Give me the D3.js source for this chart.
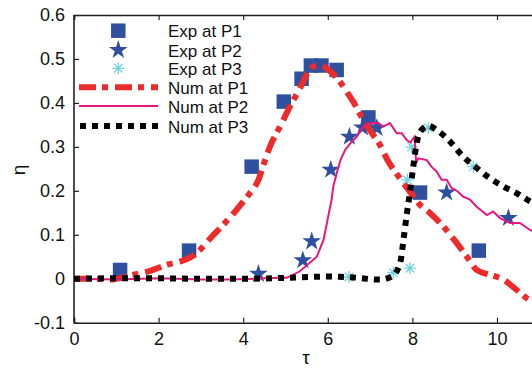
<!DOCTYPE html>
<html><head><meta charset="utf-8">
<script src="https://cdn.jsdelivr.net/npm/d3@7"></script>
<style>body{margin:0;background:#fff}svg{display:block}text{font-family:"Liberation Sans",Arial,sans-serif;fill:#111}</style>
</head><body>
<svg id="c" width="532" height="374"></svg>
<script>
const xTicks = [0, 2, 4, 6, 8, 10];
const yTicks = [-0.1, 0, 0.1, 0.2, 0.3, 0.4, 0.5, 0.6];
const yTickLabels = ["-0.1", "0", "0.1", "0.2", "0.3", "0.4", "0.5", "0.6"];
const legendLabels = ["Exp at P1", "Exp at P2", "Exp at P3", "Num at P1", "Num at P2", "Num at P3"];

const expP1 = [[1.09,0.02],[2.72,0.064],[4.2,0.255],[4.96,0.403],[5.38,0.455],[5.6,0.485],[5.85,0.485],[6.21,0.475],[6.96,0.367],[8.18,0.196],[9.57,0.064]];
const expP2 = [[4.36,0.011],[5.41,0.042],[5.62,0.085],[6.07,0.248],[6.51,0.323],[6.82,0.344],[7.16,0.343],[8.81,0.196],[10.27,0.138]];
const expP3 = [[6.5,0.004],[7.55,0.014],[7.94,0.024],[7.88,0.225],[7.98,0.30],[8.38,0.343],[9.44,0.255]];

const numP1 = [[0,0],[0.5,0],[0.85,-0.002],[1.4,0.009],[1.8,0.018],[2.2,0.032],[2.5,0.039],[2.74,0.048],[2.98,0.066],[3.25,0.095],[3.53,0.123],[3.8,0.152],[4.04,0.18],[4.2,0.2],[4.28,0.21],[4.36,0.225],[4.5,0.265],[4.63,0.3],[4.87,0.346],[5.15,0.4],[5.34,0.433],[5.54,0.471],[5.66,0.483],[5.82,0.486],[5.97,0.479],[6.1,0.468],[6.29,0.448],[6.45,0.425],[6.6,0.403],[6.84,0.361],[7.05,0.33],[7.23,0.305],[7.4,0.272],[7.67,0.233],[7.94,0.198],[8.18,0.168],[8.42,0.149],[8.73,0.119],[9.05,0.081],[9.28,0.051],[9.52,0.02],[9.83,0.009],[10.15,-0.002],[10.46,-0.025],[10.7,-0.044],[11,-0.06]];
const numP2 = [[0,0],[1,-0.002],[2,0.001],[3,-0.002],[3.7,-0.002],[4.5,0.001],[5.03,0.002],[5.34,0.017],[5.74,0.05],[5.9,0.089],[6.01,0.142],[6.09,0.18],[6.13,0.21],[6.21,0.24],[6.3,0.27],[6.41,0.293],[6.55,0.31],[6.68,0.323],[6.84,0.346],[7.0,0.354],[7.19,0.355],[7.31,0.346],[7.47,0.354],[7.63,0.331],[7.75,0.331],[7.86,0.316],[7.95,0.31],[8.05,0.323],[8.09,0.263],[8.14,0.274],[8.34,0.27],[8.45,0.255],[8.57,0.244],[8.69,0.225],[8.81,0.225],[8.93,0.206],[9.05,0.2],[9.2,0.187],[9.36,0.18],[9.52,0.164],[9.76,0.145],[9.91,0.153],[10.07,0.138],[10.31,0.127],[10.54,0.127],[10.78,0.111],[11,0.1]];
const numP3 = [[0,0],[1,0.001],[2,0.001],[3,0],[4,0],[5,0.002],[6.05,0.005],[6.6,0.003],[7.23,-0.002],[7.51,0.005],[7.71,0.036],[7.79,0.089],[7.86,0.142],[7.94,0.195],[8.02,0.255],[8.1,0.308],[8.22,0.339],[8.38,0.348],[8.57,0.339],[8.89,0.312],[9.2,0.278],[9.52,0.252],[9.83,0.229],[10.15,0.21],[10.46,0.195],[10.78,0.176],[11,0.165]];

const svg = d3.select("#c");
const x = d3.scaleLinear().domain([0, 12]).range([74, 581.6]);
const y = d3.scaleLinear().domain([-0.1, 0.6]).range([322.7, 15]);

const C = {sq:"#2f4f9f", star:"#2f4f9f", ast:"#6fd3de", red:"#ee2a2a", mag:"#e8177d", blk:"#000"};

// axes
const axC = "#222";
const gB = svg.append("g").attr("transform", `translate(0,${y(-0.1)})`)
  .call(d3.axisBottom(x).tickValues(xTicks).tickSize(-5).tickPadding(10).tickFormat(d3.format("d")));
const gT = svg.append("g").attr("transform", `translate(0,${y(0.6)})`)
  .call(d3.axisTop(x).tickValues(xTicks).tickSize(-5).tickFormat(""));
const gL = svg.append("g").attr("transform", `translate(${x(0)},0)`)
  .call(d3.axisLeft(y).tickValues(yTicks).tickSize(-5).tickPadding(9).tickFormat((d,i)=>yTickLabels[i]));
[gB,gT,gL].forEach(g=>{
  g.select(".domain").attr("stroke", axC).attr("stroke-width", 1.6);
  g.selectAll(".tick line").attr("stroke", axC).attr("stroke-width", 1.2);
  g.selectAll(".tick text").attr("font-size", 18).attr("fill","#111").attr("font-family",'"Liberation Sans",Arial,sans-serif');
});
gL.select(".domain").attr("d", `M0,${y(0.6)}V${y(-0.1)}`);
gB.selectAll(".tick text").attr("dy", "0.71em");

// axis titles
svg.append("text").attr("x", 306).attr("y", 364).attr("text-anchor","middle").attr("font-size", 19).text("τ");
svg.append("text").attr("transform", "translate(25,170) rotate(-90)").attr("text-anchor","middle").attr("font-size", 19).text("η");

// markers
const sym = (type, size) => d3.symbol().type(type).size(size)();
function drawMarkers(data, type, size, color, extra) {
  const g = svg.append("g");
  data.forEach(d => {
    g.append("path").attr("d", sym(type, size))
      .attr("transform", `translate(${x(d[0])},${y(d[1])})`)
      .attr("fill", color).attr("stroke", extra ? color : "none").attr("stroke-width", extra || 0);
  });
}
drawMarkers(expP1, d3.symbolSquare, 210, C.sq);
drawMarkers(expP2, d3.symbolStar, 110, C.star);
function asterisk(g, cx, cy, r) {
  const p = [];
  for (let k = 0; k < 4; k++) {
    const a = k * Math.PI / 4;
    p.push(`M${cx - r*Math.cos(a)},${cy - r*Math.sin(a)}L${cx + r*Math.cos(a)},${cy + r*Math.sin(a)}`);
  }
  g.append("path").attr("d", p.join("")).attr("stroke", C.ast).attr("stroke-width", 1.3).attr("fill","none");
}
const gA = svg.append("g");
expP3.forEach(d => asterisk(gA, x(d[0]), y(d[1]), 6));

// lines
const lineM = d3.line().x(d=>x(d[0])).y(d=>y(d[1])).curve(d3.curveMonotoneX);
const lineL = d3.line().x(d=>x(d[0])).y(d=>y(d[1]));
svg.append("path").attr("d", lineM(numP1)).attr("fill","none").attr("stroke", C.red).attr("stroke-width", 6).attr("stroke-dasharray","17,6,6,7");
svg.append("path").attr("d", lineL(numP2)).attr("fill","none").attr("stroke", C.mag).attr("stroke-width", 2);
svg.append("path").attr("d", lineM(numP3)).attr("fill","none").attr("stroke", C.blk).attr("stroke-width", 6).attr("stroke-dasharray","6,6");

// legend
const legY = [30.7, 50, 68.3, 87.3, 106, 126];
const lg = svg.append("g");
legendLabels.forEach((t,i)=>{
  lg.append("text").attr("x", 168).attr("y", legY[i] + 6.5).attr("font-size", 17).text(t);
});
lg.append("path").attr("d", sym(d3.symbolSquare, 210)).attr("transform", `translate(118.3,${legY[0]})`).attr("fill", C.sq);
lg.append("path").attr("d", sym(d3.symbolStar, 110)).attr("transform", `translate(118.3,${legY[1]})`).attr("fill", C.star);
asterisk(lg, 118.3, legY[2], 6);
lg.append("line").attr("x1",79).attr("x2",158).attr("y1",legY[3]).attr("y2",legY[3]).attr("stroke",C.red).attr("stroke-width",6).attr("stroke-dasharray","17,6,6,7");
lg.append("line").attr("x1",79).attr("x2",158).attr("y1",legY[4]).attr("y2",legY[4]).attr("stroke",C.mag).attr("stroke-width",2);
lg.append("line").attr("x1",80).attr("x2",158).attr("y1",legY[5]).attr("y2",legY[5]).attr("stroke",C.blk).attr("stroke-width",6).attr("stroke-dasharray","6,6");
</script>
</body></html>
